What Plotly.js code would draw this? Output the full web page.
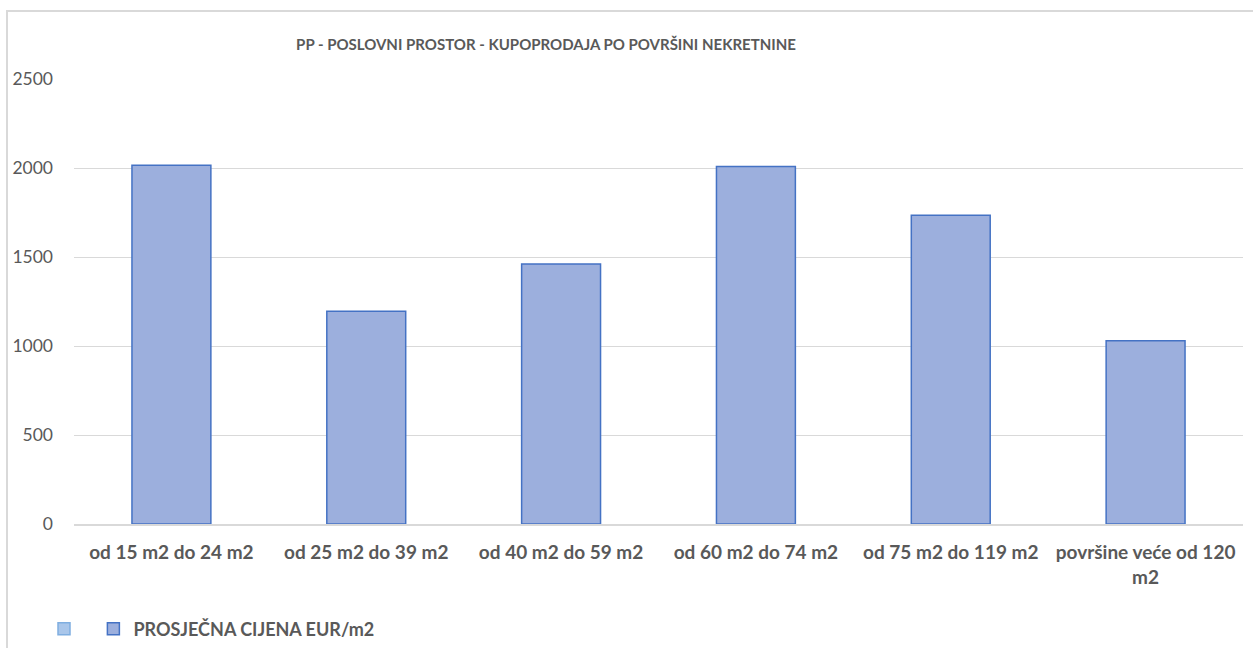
<!DOCTYPE html>
<html>
<head>
<meta charset="utf-8">
<script src="https://cdn.plot.ly/plotly-3.0.1.min.js"></script>
<style>
  html, body { margin: 0; padding: 0; background: #fff; }
  #wrap { position: relative; width: 1253px; height: 648px; }
  #chart { position: absolute; left: 0; top: 0; width: 1253px; height: 648px; }
  #frame { position: absolute; left: 6px; top: 10px; width: 1247px; height: 638px;
           border-top: 2px solid #d9d9d9; border-left: 2px solid #d9d9d9; box-sizing: border-box; pointer-events: none; }
</style>
</head>
<body>
<div id="wrap">
  <div id="chart"></div>
  <div id="frame"></div>
</div>
<script>
const categories = ["od 15 m2 do 24 m2", "od 25 m2 do 39 m2", "od 40 m2 do 59 m2", "od 60 m2 do 74 m2", "od 75 m2 do 119 m2", "površine veće od 120 m2"];
const tickLabels = ["od 15 m2 do 24 m2", "od 25 m2 do 39 m2", "od 40 m2 do 59 m2", "od 60 m2 do 74 m2", "od 75 m2 do 119 m2", "površine veće od 120<br>m2"];
const prices = [2015, 1195, 1460, 2008, 1735, 1030];
const emptySeries = [null, null, null, null, null, null];
const seriesName = "PROSJEČNA CIJENA EUR/m2";
const yTicks = [0, 500, 1000, 1500, 2000, 2500];

const FONT = "Lato, 'Open Sans', sans-serif";
const GRAY = "#595959";

const traces = [
  {
    type: "bar", x: categories, y: emptySeries, name: " ",
    marker: { color: "#A9C6EA", line: { color: "#7FAEE0", width: 1.5 } },
    hoverinfo: "skip"
  },
  {
    type: "bar", x: categories, y: prices, name: seriesName,
    marker: { color: "#9CAFDD", line: { color: "#4472C4", width: 1.5 } }
  }
];

const layout = {
  width: 1253, height: 648,
  margin: { l: 74, r: 10, t: 79, b: 124 },
  paper_bgcolor: "#ffffff", plot_bgcolor: "#ffffff",
  font: { family: FONT, color: GRAY, size: 16 },
  barmode: "overlay",
  bargap: 0.595,
  title: {
    text: "<b>PP - POSLOVNI PROSTOR - KUPOPRODAJA PO POVRŠINI NEKRETNINE</b>",
    font: { family: FONT, size: 15, color: GRAY },
    x: 546 / 1253, xref: "container", xanchor: "center",
    y: 1 - 45 / 648, yref: "container", yanchor: "middle"
  },
  xaxis: {
    type: "category",
    tickvals: categories, ticktext: tickLabels,
    tickfont: { family: FONT, size: 19, color: GRAY, weight: "bold" },
    showgrid: false,
    showline: true, linecolor: "#d9d9d9", linewidth: 1.5,
    ticks: "", ticklabelstandoff: 11,
    zeroline: false, fixedrange: true
  },
  yaxis: {
    range: [0, 2500],
    tickvals: yTicks,
    tickfont: { family: FONT, size: 17.5, color: GRAY },
    showgrid: true, gridcolor: "#d9d9d9", gridwidth: 1,
    zeroline: false, showline: false, ticks: "",
    ticklabelstandoff: 20, fixedrange: true
  },
  showlegend: true,
  legend: {
    orientation: "h",
    xref: "container", yref: "container",
    x: 44 / 1253, xanchor: "left",
    y: 1 - 629 / 648, yanchor: "middle",
    font: { family: FONT, size: 18, color: GRAY, weight: "bold" },
    itemwidth: 30, traceorder: "normal"
  }
};

Plotly.newPlot("chart", traces, layout, { displayModeBar: false, staticPlot: true });
</script>
</body>
</html>
